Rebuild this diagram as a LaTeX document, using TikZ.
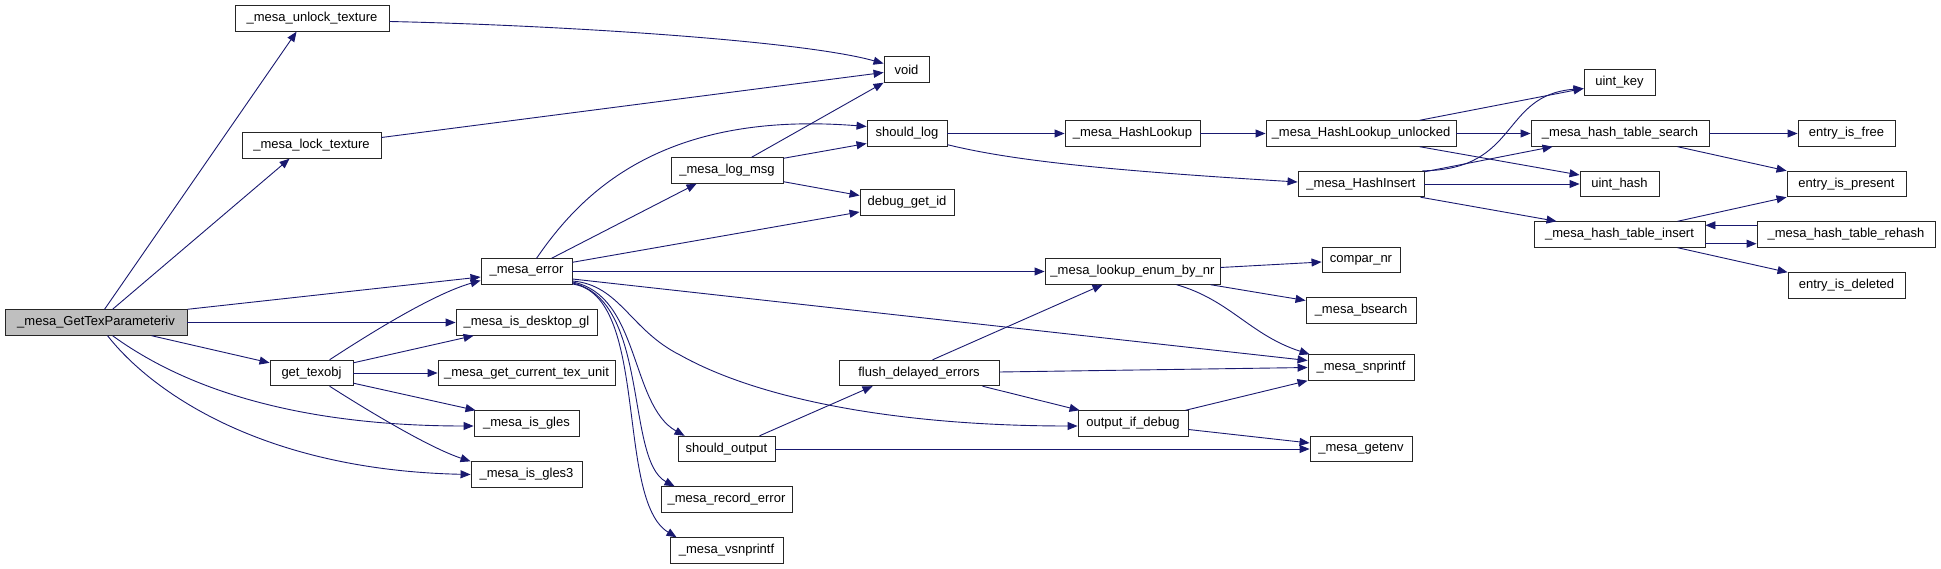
\documentclass[tikz,border=0pt]{standalone}
\usepackage{fontspec}
\setmainfont{Liberation Sans}
\usetikzlibrary{arrows.meta,calc}
\definecolor{edgeblue}{HTML}{191970}
\definecolor{nodegray}{HTML}{BFBFBF}
\begin{document}
\begin{tikzpicture}[x=1pt,y=-1pt,
 box/.style={draw=black!85, line width=0.9pt, rectangle, inner sep=0pt, minimum height=25.5pt, font=\fontsize{13}{15}\selectfont, fill=white},
 arr/.style={draw=edgeblue, line width=0.9pt, -{Triangle[length=10pt,width=8pt]}},
]
\useasboundingbox[fill=white] (0,0) rectangle (1941,569);
% nodes
\node[box, minimum width=182pt, fill=nodegray] (gtp) at (96,322.5) {\_mesa\_GetTexParameteriv};
\node[box, minimum width=154pt] (unlock) at (312,18.5) {\_mesa\_unlock\_texture};
\node[box, minimum width=139pt] (lock) at (311.5,145.5) {\_mesa\_lock\_texture};
\node[box, minimum width=83pt] (getx) at (311.5,373) {get\_texobj};
\node[box, minimum width=45pt] (void) at (906.5,69.5) {void};
\node[box, minimum width=80pt] (shlog) at (907,133.5) {should\_log};
\node[box, minimum width=112pt] (logmsg) at (727,170.5) {\_mesa\_log\_msg};
\node[box, minimum width=94pt] (dbg) at (907,202.5) {debug\_get\_id};
\node[box, minimum width=91pt] (err) at (526.5,271.5) {\_mesa\_error};
\node[box, minimum width=141pt] (desk) at (526.5,322.5) {\_mesa\_is\_desktop\_gl};
\node[box, minimum width=177pt] (ctu) at (526.5,373) {\_mesa\_get\_current\_tex\_unit};
\node[box, minimum width=105pt] (gles) at (526.5,423.5) {\_mesa\_is\_gles};
\node[box, minimum width=111pt] (gles3) at (526.5,474.5) {\_mesa\_is\_gles3};
\node[box, minimum width=97pt] (shout) at (726.5,449) {should\_output};
\node[box, minimum width=131pt] (rec) at (726.5,499.5) {\_mesa\_record\_error};
\node[box, minimum width=113pt] (vsn) at (726.5,550.5) {\_mesa\_vsnprintf};
\node[box, minimum width=160pt] (flush) at (919,373) {flush\_delayed\_errors};
\node[box, minimum width=135pt] (hl) at (1132.5,133.5) {\_mesa\_HashLookup};
\node[box, minimum width=190pt] (hlu) at (1361,133.5) {\_mesa\_HashLookup\_unlocked};
\node[box, minimum width=126pt] (hi) at (1361,184) {\_mesa\_HashInsert};
\node[box, minimum width=78pt] (comp) at (1361,260) {compar\_nr};
\node[box, minimum width=175pt] (lenum) at (1132.5,271.5) {\_mesa\_lookup\_enum\_by\_nr};
\node[box, minimum width=110pt] (bs) at (1361,310.5) {\_mesa\_bsearch};
\node[box, minimum width=106pt] (snp) at (1361,367.5) {\_mesa\_snprintf};
\node[box, minimum width=110pt] (oid) at (1133,423.5) {output\_if\_debug};
\node[box, minimum width=102pt] (genv) at (1361,449) {\_mesa\_getenv};
\node[box, minimum width=71pt] (ukey) at (1619.5,82.5) {uint\_key};
\node[box, minimum width=178pt] (hts) at (1620,133.5) {\_mesa\_hash\_table\_search};
\node[box, minimum width=79pt] (uhash) at (1619.5,184) {uint\_hash};
\node[box, minimum width=171pt] (hti) at (1619.5,234.5) {\_mesa\_hash\_table\_insert};
\node[box, minimum width=97pt] (efree) at (1846.5,133.5) {entry\_is\_free};
\node[box, minimum width=119pt] (epres) at (1846.5,184) {entry\_is\_present};
\node[box, minimum width=178pt] (rehash) at (1846,234.5) {\_mesa\_hash\_table\_rehash};
\node[box, minimum width=117pt] (edel) at (1846.5,285.5) {entry\_is\_deleted};
% edges from _mesa_GetTexParameteriv
\draw[arr] ($(gtp.north west)+(100,0)$) -- ($(unlock.south west)+(62,0)$);
\draw[arr] ($(gtp.north west)+(108,0)$) -- ($(lock.south west)+(48,0)$);
\draw[arr] (gtp.north east) -- ($(err.west)+(0,5.5)$);
\draw[arr] (gtp.east) -- (desk.west);
\draw[arr] ($(gtp.south west)+(147,0)$) -- ($(getx.north west)+(0,3)$);
\draw[arr] ($(gtp.south west)+(108,0)$) .. controls (160,370) and (260,426) .. ($(gles.west)+(0,2.5)$);
\draw[arr] ($(gtp.south west)+(103,0)$) .. controls (150,390) and (260,470) .. (gles3.west);
% edges from get_texobj
\draw[arr] ($(getx.north west)+(60,0)$) .. controls (360,340) and (430,295) .. ($(err.west)+(0,9)$);
\draw[arr] ($(getx.north east)+(0,3)$) -- ($(desk.south west)+(18,0)$);
\draw[arr] (getx.east) -- (ctu.west);
\draw[arr] ($(getx.south east)+(0,-3)$) -- ($(gles.north west)+(2,0)$);
\draw[arr] ($(getx.south west)+(60,0)$) .. controls (370,412) and (430,448) .. (gles3.north west);
% lock / unlock
\draw[arr] ($(unlock.east)+(0,3)$) .. controls (550,25) and (800,40) .. ($(void.west)+(0,-6)$);
\draw[arr] ($(lock.east)+(0,-8)$) -- ($(void.west)+(0,3)$);
% edges from _mesa_error
\draw[arr] ($(err.north west)+(56,0)$) .. controls (580,195) and (660,110) .. ($(shlog.west)+(0,-7)$);
\draw[arr] ($(err.north west)+(71,0)$) -- ($(logmsg.south west)+(26,0)$);
\draw[arr] ($(err.north east)+(0,4)$) -- ($(dbg.west)+(0,9.5)$);
\draw[arr] (err.east) -- (lenum.west);
\draw[arr] ($(err.east)+(0,7.5)$) -- ($(snp.west)+(0,-7)$);
\draw[arr] ($(err.east)+(0,9.5)$) .. controls (620,285) and (630,330) .. (680,355) .. controls (760,400) and (900,426) .. ($(oid.west)+(0,2.5)$);
\draw[arr] ($(err.east)+(0,10.5)$) .. controls (640,295) and (630,405) .. ($(shout.north west)+(7,0)$);
\draw[arr] ($(err.east)+(0,11.5)$) .. controls (650,300) and (625,460) .. ($(rec.north west)+(14,0)$);
\draw[arr] ($(err.east)+(0,12.5)$) .. controls (650,295) and (615,500) .. ($(vsn.north west)+(7,0)$);
% _mesa_log_msg
\draw[arr] ($(logmsg.north west)+(81,0)$) -- (void.south west);
\draw[arr] ($(logmsg.north east)+(0,1)$) -- ($(shlog.west)+(0,10)$);
\draw[arr] ($(logmsg.south east)+(0,-2)$) -- ($(dbg.west)+(0,-7)$);
% should_log
\draw[arr] (shlog.east) -- (hl.west);
\draw[arr] ($(shlog.south east)+(0,-2)$) .. controls (1010,160) and (1100,170) .. ($(hi.west)+(0,-2)$);
\draw[arr] (hl.east) -- (hlu.west);
% HashLookup_unlocked
\draw[arr] ($(hlu.north west)+(154,0)$) -- ($(ukey.west)+(0,6)$);
\draw[arr] (hlu.east) -- (hts.west);
\draw[arr] ($(hlu.south west)+(154,0)$) -- ($(uhash.west)+(0,-9)$);
% HashInsert
\draw[arr] ($(hi.north east)+(-2,0)$) .. controls (1520,170) and (1500,95) .. ($(ukey.west)+(0,6)$);
\draw[arr] ($(hi.north east)+(0,1)$) -- ($(hts.south west)+(22,0)$);
\draw[arr] (hi.east) -- (uhash.west);
\draw[arr] ($(hi.south east)+(-4,0)$) -- ($(hti.north west)+(23,0)$);
% hash table search / insert
\draw[arr] (hts.east) -- (efree.west);
\draw[arr] ($(hts.south west)+(147,0)$) -- (epres.north west);
\draw[arr] ($(hti.north west)+(144,0)$) -- (epres.south west);
\draw[arr] ($(hti.south east)+(0,-4)$) -- ($(rehash.south west)+(0,-4)$);
\draw[arr] ($(rehash.north west)+(0,4)$) -- ($(hti.north east)+(0,4)$);
\draw[arr] ($(hti.south west)+(144,0)$) -- (edel.north west);
% lookup_enum_by_nr
\draw[arr] ($(lenum.east)+(0,-4)$) -- ($(comp.west)+(0,2)$);
\draw[arr] ($(lenum.south east)+(-10,0)$) -- ($(bs.west)+(0,-10)$);
\draw[arr] ($(lenum.south west)+(132,0)$) .. controls (1230,300) and (1250,335) .. ($(snp.north west)+(2,0)$);
% flush_delayed_errors
\draw[arr] ($(flush.north west)+(94,0)$) -- ($(lenum.south west)+(58,0)$);
\draw[arr] ($(flush.east)+(0,-1)$) -- (snp.west);
\draw[arr] ($(flush.south west)+(144,0)$) -- ($(oid.north west)+(2,0)$);
% should_output
\draw[arr] ($(shout.north west)+(82,0)$) -- ($(flush.south west)+(34,0)$);
\draw[arr] (shout.east) -- (genv.west);
% output_if_debug
\draw[arr] ($(oid.north east)+(-3,0)$) -- (snp.south west);
\draw[arr] ($(oid.east)+(0,6)$) -- ($(genv.west)+(0,-6)$);
\end{tikzpicture}
\end{document}
